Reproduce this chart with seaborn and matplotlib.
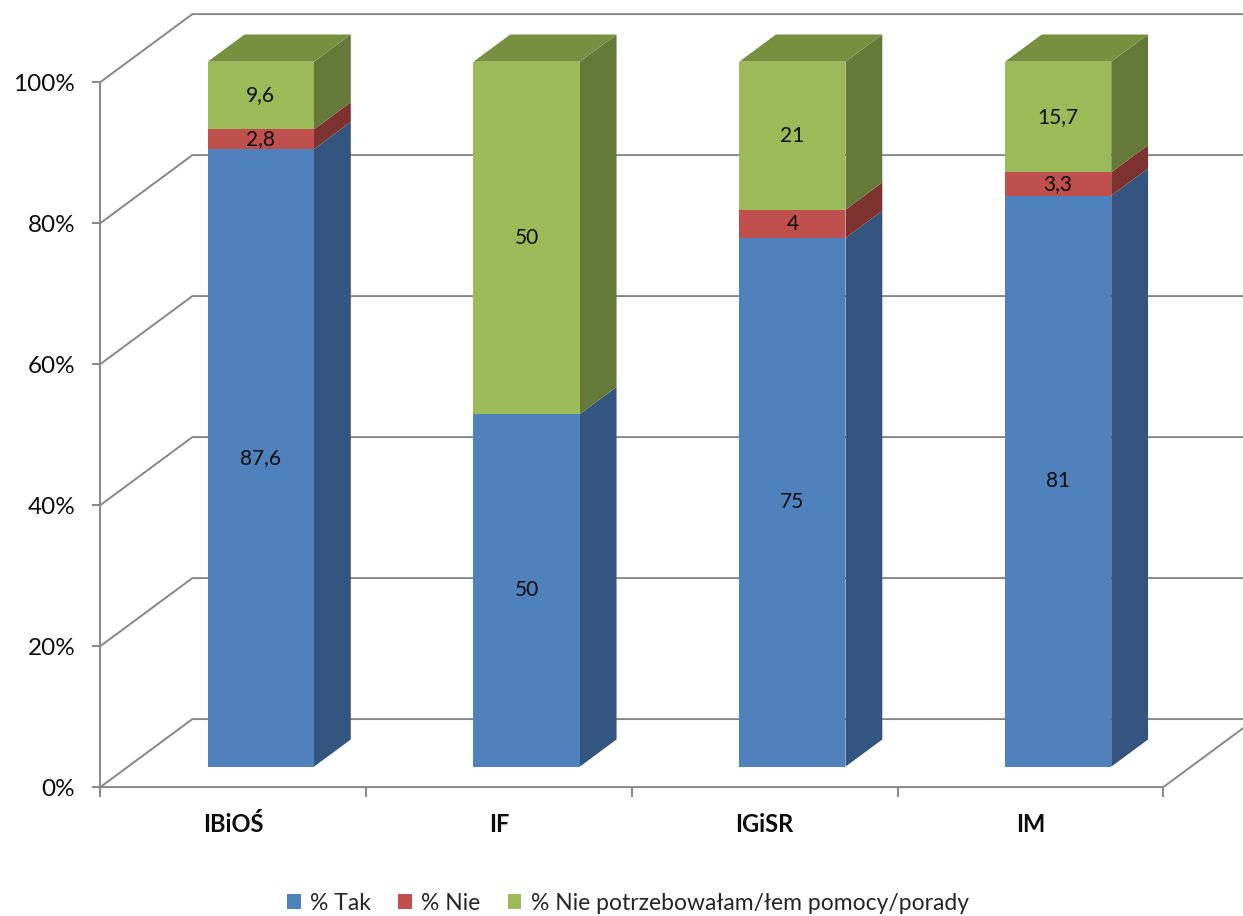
import pandas as pd
import matplotlib.pyplot as plt
import seaborn as sns
from matplotlib.patches import Polygon, Patch

# -----------------------------------
# Data
# -----------------------------------
categories = ["IBiOŚ", "IF", "IGiSR", "IM"]
tak = [87.6, 50, 75, 81]
nie = [2.8, 0, 4, 3.3]
nie_potrz = [9.6, 50, 21, 15.7]
series_names = ["% Tak", "% Nie", "% Nie potrzebowałam/łem pomocy/porady"]
y_ticks = [0, 20, 40, 60, 80, 100]

# -----------------------------------
# Style
# -----------------------------------
front_colors = ["#4F81BD", "#C0504D", "#9BBB59"]
side_colors = ["#34557F", "#7E3230", "#657A38"]
top_colors = ["#3F6797", "#9A403E", "#76903F"]
grid_color = "#878787"

# oblique "3D" projection (offset per unit of depth, data units)
DX, DY = 0.3462, 9.645
Z_AXIS, Z_BACK, Z_BAR = -0.3, 0.7, 0.4
BAR_W = 0.4


def proj(x, y, z):
    return x + z * DX, y + z * DY


sns.set_style("white")
plt.rcParams["font.family"] = ["Lato", "DejaVu Sans"]

fig = plt.figure(figsize=(12.43, 9.16), dpi=100)
ax = fig.add_axes([0, 0, 1, 1])

df = pd.DataFrame({"kat": categories, "tak": tak, "nie": nie, "npot": nie_potrz})
df["c1"] = df["tak"]
df["c2"] = df["tak"] + df["nie"]
df["c3"] = df["c2"] + df["npot"]

# front faces: cumulative bars drawn from the top segment down
for col, color in zip(["c3", "c2", "c1"], front_colors[::-1]):
    sns.barplot(data=df, x="kat", y=col, color=color, saturation=1,
                width=BAR_W, linewidth=0, errorbar=None, zorder=3, ax=ax)

# -----------------------------------
# Walls, floor and axis lines
# -----------------------------------
x_left, x_right = -0.5, len(categories) - 0.5
line_kw = dict(color=grid_color, lw=1.4, zorder=1, solid_capstyle="butt")

for y in y_ticks:
    a = proj(x_left, y, Z_AXIS)
    b = proj(x_left, y, Z_BACK)
    c = proj(x_right, y, Z_BACK)
    ax.plot([a[0], b[0], c[0]], [a[1], b[1], c[1]], **line_kw)
    # y tick mark + label
    ax.plot([a[0] - 0.03, a[0]], [a[1], a[1]], **line_kw)
    ax.text(a[0] - 0.095, a[1] - 0.3, f"{y}%", ha="right", va="center",
            fontsize=17.5, color="#0d0d0d")

p0 = proj(x_left, 0, Z_AXIS)
p1 = proj(x_left, 100, Z_AXIS)
ax.plot([p0[0], p1[0]], [p0[1], p1[1]], **line_kw)

f0 = proj(x_left, 0, Z_AXIS)
f1 = proj(x_right, 0, Z_AXIS)
f2 = proj(x_right, 0, Z_BACK)
ax.plot([f0[0], f1[0], f2[0]], [f0[1], f1[1], f2[1]], **line_kw)

for k in range(len(categories) + 1):
    t = proj(x_left + k, 0, Z_AXIS)
    ax.plot([t[0], t[0]], [t[1], t[1] - 1.42], **line_kw)

for i, cat in enumerate(categories):
    c = proj(i, 0, Z_AXIS)
    ax.text(c[0], c[1] - 5.3, cat, ha="center", va="center",
            fontsize=17, fontweight="bold", color="#0d0d0d")

# -----------------------------------
# Side / top faces and value labels
# -----------------------------------
front_patches = ax.containers[-1].patches
for i, patch in enumerate(front_patches):
    x0 = patch.get_x()
    x1 = x0 + patch.get_width()
    bottom = 0
    segments = [tak[i], nie[i], nie_potrz[i]]
    for s, val in enumerate(segments):
        if val <= 0:
            continue
        top = bottom + val
        side = [proj(x1, bottom, 0), proj(x1, bottom, Z_BAR),
                proj(x1, top, Z_BAR), proj(x1, top, 0)]
        ax.add_patch(Polygon(side, closed=True, facecolor=side_colors[s],
                             edgecolor="none", zorder=2.5))
        label = f"{val:g}".replace(".", ",")
        ax.text((x0 + x1) / 2, (bottom + top) / 2, label, ha="center",
                va="center", fontsize=15, color="#0d0d0d", zorder=4)
        bottom = top
    top_face = [proj(x0, bottom, 0), proj(x1, bottom, 0),
                proj(x1, bottom, Z_BAR), proj(x0, bottom, Z_BAR)]
    ax.add_patch(Polygon(top_face, closed=True, facecolor=top_colors[2],
                         edgecolor="none", zorder=2.5))

ax.set_xlim(-0.9816, 3.6958)
ax.set_ylim(-21.18, 108.75)
ax.axis("off")

# -----------------------------------
# Legend
# -----------------------------------
handles = [Patch(facecolor=c, edgecolor="none") for c in front_colors]
ax.legend(handles, series_names, loc="center", ncol=3, frameon=False,
          bbox_to_anchor=(0.505, 0.014), bbox_transform=fig.transFigure,
          fontsize=16.5, handlelength=0.6, handleheight=0.6,
          handletextpad=0.4, columnspacing=1.2)

fig.savefig("out.png", dpi=100)
